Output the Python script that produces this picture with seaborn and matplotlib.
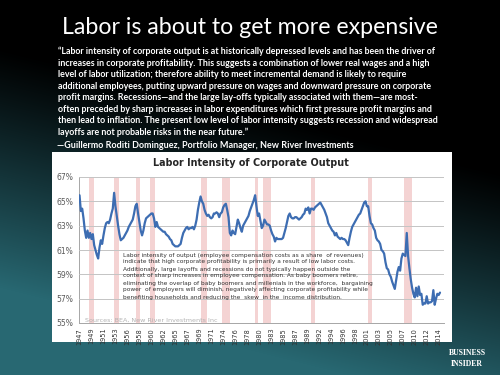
import numpy as np
import matplotlib
matplotlib.use("Agg")
import matplotlib.pyplot as plt
from matplotlib.patches import Rectangle
import seaborn as sns

# ---------------- data ----------------
start_year = 1947
labor_share = [
    65.5, 64.2, 64.4, 63.6,  # 1947
    62.6, 62.0, 62.6, 62.0,  # 1948
    62.4, 61.9, 62.3, 61.4,  # 1949
    61.0, 60.6, 60.3, 61.2,  # 1950
    61.8, 61.5, 62.2, 62.8,  # 1951
    63.2, 63.3, 63.2, 63.5,  # 1952
    64.0, 64.4, 65.7, 64.6,  # 1953
    63.8, 63.0, 62.3, 61.8,  # 1954
    61.9, 62.0, 62.2, 62.4,  # 1955
    62.6, 62.9, 63.1, 63.3,  # 1956
    63.5, 64.0, 64.6, 64.8,  # 1957
    64.0, 63.3, 62.6, 62.2,  # 1958
    62.6, 63.2, 63.6, 63.7,  # 1959
    63.8, 63.9, 64.0, 64.0,  # 1960
    63.6, 62.9, 63.3, 62.9,  # 1961
    62.8, 62.7, 62.6, 62.5,  # 1962
    62.5, 62.3, 62.2, 62.1,  # 1963
    61.9, 61.8, 61.5, 61.4,  # 1964
    61.3, 61.3, 61.3, 61.4,  # 1965
    61.5, 62.0, 62.4, 62.6,  # 1966
    62.8, 62.9, 62.7, 62.8,  # 1967
    62.8, 62.9, 62.7, 63.0,  # 1968
    63.5, 64.3, 64.9, 65.4,  # 1969
    65.0, 64.8, 64.3, 64.0,  # 1970
    63.8, 63.9, 63.7, 63.6,  # 1971
    63.7, 64.0, 64.0, 64.1,  # 1972
    64.0, 63.7, 64.0, 64.1,  # 1973
    64.5, 64.7, 64.8, 64.3,  # 1974
    63.7, 62.4, 62.2, 62.6,  # 1975
    62.4, 62.3, 62.9, 63.5,  # 1976
    63.2, 62.8, 62.5, 63.0,  # 1977
    63.2, 63.4, 63.6, 63.8,  # 1978
    64.2, 64.5, 64.8, 65.1,  # 1979
    65.5, 64.6, 63.8, 64.0,  # 1980
    63.4, 62.8, 63.0, 63.5,  # 1981
    63.3, 63.1, 63.1, 63.0,  # 1982
    62.6, 62.3, 62.1, 61.7,  # 1983
    62.0, 61.9, 61.9, 61.9,  # 1984
    61.9, 62.0, 62.4, 62.8,  # 1985
    63.3, 63.8, 64.0, 63.7,  # 1986
    63.6, 63.6, 63.7, 63.7,  # 1987
    63.6, 63.5, 63.6, 63.7,  # 1988
    63.9, 64.0, 64.4, 64.3,  # 1989
    64.5, 64.0, 64.4, 64.4,  # 1990
    64.3, 64.5, 64.6, 64.7,  # 1991
    64.8, 64.9, 64.7, 64.5,  # 1992
    64.3, 64.0, 63.7, 63.2,  # 1993
    63.0, 62.8, 62.6, 62.5,  # 1994
    62.2, 62.4, 62.1, 62.0,  # 1995
    61.9, 62.0, 61.9, 61.9,  # 1996
    61.8, 61.6, 61.4, 62.0,  # 1997
    62.5, 62.9, 63.1, 63.3,  # 1998
    63.5, 63.7, 63.9, 64.0,  # 1999
    64.3, 64.6, 64.9, 65.0,  # 2000
    64.6, 64.6, 63.8, 63.2,  # 2001
    63.1, 62.8, 62.6, 62.0,  # 2002
    61.8, 61.7, 61.5, 61.0,  # 2003
    60.9, 60.7, 60.0, 59.5,  # 2004
    59.4, 59.0, 58.8, 58.4,  # 2005
    58.1, 57.8, 58.5, 59.2,  # 2006
    59.6, 59.3, 60.3, 60.7,  # 2007
    60.6, 60.5, 62.4, 60.5,  # 2008
    59.5, 58.6, 57.9, 57.4,  # 2009
    57.1, 57.9, 57.2, 58.0,  # 2010
    57.3, 57.4, 56.5, 56.6,  # 2011
    56.6, 57.2, 56.6, 56.7,  # 2012
    56.7, 56.8, 57.7, 56.5,  # 2013
    57.0, 57.4, 57.3, 57.5,  # 2014
]

rec_start = [1948.85, 1953.5, 1957.6, 1960.3, 1969.9, 1973.85, 1980.0, 1981.5, 1990.5, 2001.2, 2007.9]
rec_end = [1949.8, 1954.4, 1958.3, 1961.1, 1970.9, 1975.2, 1980.55, 1982.9, 1991.2, 2001.9, 2009.5]

xtick_labels = ["1947", "1949", "1951", "1953", "1956", "1958", "1960", "1962", "1965",
                "1967", "1969", "1971", "1974", "1976", "1978", "1980", "1983", "1985",
                "1987", "1989", "1992", "1994", "1996", "1998", "2001", "2003", "2005",
                "2007", "2010", "2012", "2014"]
ytick_values = [55, 57, 59, 61, 63, 65, 67]
ytick_labels = ["55%", "57%", "59%", "61%", "63%", "65%", "67%"]

slide_title = "Labor is about to get more expensive"
quote_lines = [
    "\u201cLabor intensity of corporate output is at historically depressed levels and has been the driver of",
    "increases in corporate profitability. This suggests a combination of lower real wages and a high",
    "level of labor utilization; therefore ability to meet incremental demand is likely to require",
    "additional employees, putting upward pressure on wages and downward pressure on corporate",
    "profit margins. Recessions\u2014and the large lay-offs typically associated with them\u2014are most-",
    "often preceded by sharp increases in labor expenditures which first pressure profit margins and",
    "then lead to inflation. The present low level of labor intensity suggests recession and widespread",
    "layoffs are not probable risks in the near future.\u201d",
]
attribution = "\u2014Guillermo Roditi Dominguez, Portfolio Manager, New River Investments"
chart_title = "Labor Intensity of Corporate Output"
note_lines = [
    "Labor intensity of output (employee compensation costs as a share  of revenues)",
    "indicate that high corporate profitability is primarily a result of low labor costs.",
    "Additionally, large layoffs and recessions do not typically happen outside the",
    "context of sharp increases in employee compensation. As baby boomers retire,",
    "eliminating the overlap of baby boomers and millenials in the workforce,  bargaining",
    "power  of employers will diminish, negatively affecting corporate profitability while",
    "benefiting households and reducing the  skew  in the  income distribution.",
]
source_text = "Sources: BEA, New River Investments Inc"
logo_lines = ["BUSINESS", "INSIDER"]

# ---------------- figure ----------------
sns.set_style("white")
plt.rcParams["font.family"] = ["Lato", "DejaVu Sans"]

W, H = 500, 375
fig = plt.figure(figsize=(5, 3.75), dpi=100)

def fx(px):
    return px / W

def fy(py):
    return 1 - py / H

# background gradient
yy, xx = np.mgrid[0:H, 0:W]
t = np.clip((yy - 110 + 0.25 * (250 - xx)) / 240.0, 0, 1) ** 1.1
teal = np.array([40, 104, 114]) / 255.0
img = t[..., None] * teal[None, None, :]
bg = fig.add_axes([0, 0, 1, 1])
bg.imshow(img, aspect="auto", extent=[0, 1, 0, 1], interpolation="bilinear")
bg.axis("off")
bg.set_zorder(-2)

# white chart panel
fig.patches.append(Rectangle((fx(52), fy(342)), fx(452) - fx(52), fy(152) - fy(342),
                             transform=fig.transFigure, facecolor="white",
                             edgecolor="none", zorder=-1))

# chart axes
ax = fig.add_axes([fx(79), fy(323), fx(444) - fx(79), fy(177) - fy(323)])
ax.set_zorder(1)
ax.patch.set_alpha(0)

xq = start_year + 0.25 * np.arange(len(labor_share))
for s, e in zip(rec_start, rec_end):
    ax.axvspan(s, e, color="#f3cfcf", alpha=0.9, lw=0, zorder=0.5)

sns.lineplot(x=xq, y=labor_share, ax=ax, color="#3d6db2", linewidth=1.6, zorder=3)

ax.set_xlim(1946.9, 2015.5)
ax.set_ylim(55, 67)
ax.set_yticks(ytick_values)
ax.set_yticklabels(ytick_labels)
ax.set_xticks([start_year + 2.25 * i for i in range(len(xtick_labels))])
ax.set_xticklabels(xtick_labels, rotation=90)
ax.set_xlabel("")
ax.set_ylabel("")
ax.grid(axis="y", color="#c4c4c4", linewidth=0.7, zorder=0.6)
ax.grid(axis="x", visible=False)
ax.set_axisbelow(False)
for sp in ["top", "right"]:
    ax.spines[sp].set_visible(False)
ax.spines["left"].set_color("#a6a6a6")
ax.spines["left"].set_linewidth(0.7)
ax.spines["bottom"].set_color("#a6a6a6")
ax.spines["bottom"].set_linewidth(0.7)
ax.tick_params(axis="y", length=0, labelsize=5.5, labelcolor="#595959", pad=4)
ax.tick_params(axis="x", length=2, width=0.5, color="#a6a6a6", labelsize=4.8,
               labelcolor="#333333", pad=1.5)
for lab in ax.get_yticklabels() + ax.get_xticklabels():
    lab.set_family(["DejaVu Sans"])

# texts
fig.canvas.draw()
rend = fig.canvas.get_renderer()

def fit(txt, target):
    bb = txt.get_window_extent(rend)
    txt.set_fontsize(txt.get_fontsize() * target / bb.width)

t_title = fig.text(0.5, fy(27), slide_title, color="white", ha="center", va="center",
                   fontsize=16, family=["Lato", "DejaVu Sans"])
fit(t_title, 378)

q_texts = []
y0 = 51.7
for i, line in enumerate(quote_lines):
    q = fig.text(fx(58), fy(y0 + 11.5 * i), line, color="white", ha="left", va="center",
                 fontsize=6, fontweight="bold", family=["Lato", "DejaVu Sans"])
    q_texts.append(q)
fit(q_texts[0], 381)
for q in q_texts[1:]:
    q.set_fontsize(q_texts[0].get_fontsize())
att = fig.text(fx(57), fy(146), attribution, color="white", ha="left", va="center",
               fontsize=q_texts[0].get_fontsize(), fontweight="bold",
               family=["Lato", "DejaVu Sans"])
fit(att, 295)

ct = fig.text(fx(251), fy(163), chart_title, color="#262626", ha="center", va="center",
              fontsize=8, fontweight="bold", family=["DejaVu Sans"], zorder=5)
fit(ct, 194)

n_texts = []
for i, line in enumerate(note_lines):
    n = fig.text(fx(123), fy(255 + 7.0 * i), line, color="#333333", ha="left", va="center",
                 fontsize=4.5, family=["DejaVu Sans"], zorder=5)
    n_texts.append(n)
fit(n_texts[0], 239)
for n in n_texts[1:]:
    n.set_fontsize(n_texts[0].get_fontsize())

st = fig.text(fx(85), fy(320), source_text, color="#b3b3b3", ha="left", va="center",
              fontsize=5, family=["DejaVu Sans"], zorder=5)
fit(st, 133)

lg1 = fig.text(fx(467), fy(353), logo_lines[0], color="white", ha="center", va="center",
               fontsize=6, fontweight="bold", family=["Liberation Serif", "DejaVu Serif"])
fit(lg1, 38)
lg2 = fig.text(fx(467), fy(363.5), logo_lines[1], color="white", ha="center", va="center",
               fontsize=lg1.get_fontsize(), fontweight="bold",
               family=["Liberation Serif", "DejaVu Serif"])

fig.savefig("out.png", dpi=100)
